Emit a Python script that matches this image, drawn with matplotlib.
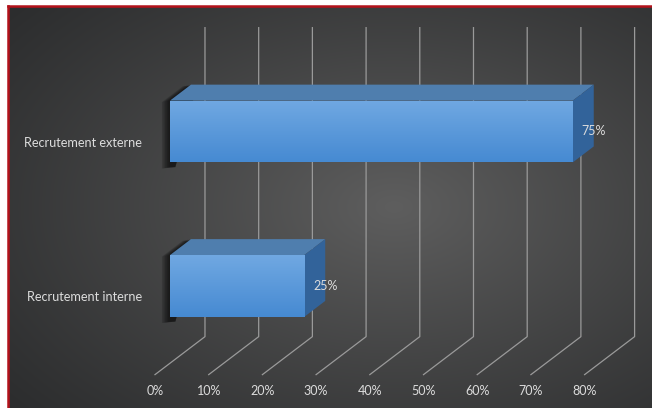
import numpy as np
import matplotlib.pyplot as plt
from matplotlib.patches import Polygon, Rectangle

categories = ['Recrutement interne', 'Recrutement externe']
values = [25, 75]
ticks = [0, 10, 20, 30, 40, 50, 60, 70, 80]
tick_labels = ['0%', '10%', '20%', '30%', '40%', '50%', '60%', '70%', '80%']

# fake 3d: screen = world + depth * (DX, DY)
DX, DY = 9.31, 0.246
def proj(x, y, d):
    return (x + d * DX, y + d * DY)

W, H = 652, 408
fig = plt.figure(figsize=(W / 100, H / 100), dpi=100)
fig.patch.set_facecolor('white')

# dark gradient background inside the red frame
bg = fig.add_axes([8 / W, 0, 1 - 8 / W, 1 - 6 / H])
bg.set_axis_off()
yy, xx = np.mgrid[0:1:200j, 0:1:320j]
r = np.sqrt(((xx - 0.6) / 0.8) ** 2 + ((yy - 0.5) / 0.8) ** 2)
shade = np.clip(1 - r, 0, 1) ** 1.1
c_out = np.array([0x2b, 0x2c, 0x2d]) / 255
c_in = np.array([0x5e, 0x5e, 0x5e]) / 255
img = c_out + shade[..., None] * (c_in - c_out)
bg.imshow(img, aspect='auto', extent=[0, 1, 0, 1], interpolation='bilinear')
bg.set_xlim(0, 1)
bg.set_ylim(0, 1)

# red frame (top and left)
fig.add_artist(plt.Line2D([8 / W, 1], [1 - 6 / H, 1 - 6 / H], color='#b3121b', lw=1.8))
fig.add_artist(plt.Line2D([8 / W, 8 / W], [0, 1 - 6 / H], color='#b3121b', lw=1.8))

ax = fig.add_axes([0, 0, 1, 1])
ax.set_axis_off()
ax.patch.set_alpha(0)

txt = '#dcdcdc'
font = 'Lato'

# gridlines: floor diagonals + back wall verticals
for v, lab in zip(ticks, tick_labels):
    p0 = proj(v, -0.5, 0)
    p1 = proj(v, -0.5, 1)
    p2 = proj(v, 1.5, 1)
    ax.plot([p0[0], p1[0], p2[0]], [p0[1], p1[1], p2[1]], color='#9a9a9a', lw=0.9, zorder=1)
    ax.annotate(lab, xy=p0, xytext=(0, -12), textcoords='offset points',
                ha='center', va='center', color=txt, fontsize=9, family=font)

grad = np.linspace(0, 1, 100)[:, None]
top_c = np.array([0x70, 0xa8, 0xe2]) / 255
bot_c = np.array([0x46, 0x8a, 0xd2]) / 255
front_img = top_c + grad[..., None] * (bot_c - top_c)

d0, d1 = 0.3, 0.72
half = 0.2
for i, (cat, v) in enumerate(zip(categories, values)):
    y0, y1 = i - half, i + half
    # soft shadow along the left edge
    edge = [proj(0, y1, d1), proj(0, y1, d0), proj(0, y0 - 0.03, d0)]
    for k in range(1, 6):
        sh = [(x - k * 0.3, y - k * 0.002) for x, y in edge]
        sh = sh + [(edge[2][0] + 1, edge[2][1]), (edge[0][0] + 1, edge[0][1] - 0.02)]
        ax.add_patch(Polygon(sh, closed=True, facecolor='black', edgecolor='none',
                             alpha=0.16, zorder=2))
    # top face
    top = [proj(0, y1, d0), proj(v, y1, d0), proj(v, y1, d1), proj(0, y1, d1)]
    ax.add_patch(Polygon(top, closed=True, facecolor='#4f7eae', edgecolor='none', zorder=3))
    # right face
    side = [proj(v, y0, d0), proj(v, y1, d0), proj(v, y1, d1), proj(v, y0, d1)]
    ax.add_patch(Polygon(side, closed=True, facecolor='#32639a', edgecolor='none', zorder=3))
    # front face with vertical gradient
    fx0, fy0 = proj(0, y0, d0)
    fx1, fy1 = proj(v, y1, d0)
    rect = Rectangle((fx0, fy0), fx1 - fx0, fy1 - fy0, facecolor='none', edgecolor='none')
    ax.add_patch(rect)
    im = ax.imshow(front_img, extent=[fx0, fx1, fy0, fy1], aspect='auto',
                   interpolation='bilinear', zorder=4)
    im.set_clip_path(rect)
    # labels
    ax.annotate(f'{v}%', xy=proj(v, i, d0), xytext=(6.3, 0), textcoords='offset points',
                ha='left', va='center', color=txt, fontsize=9, family=font, zorder=5)
    ax.annotate(cat, xy=proj(0, i, 0), xytext=(-9.4, 0), textcoords='offset points',
                ha='right', va='center', color=txt, fontsize=9.2, family=font)

ax.set_xlim(-28.86, 92.55)
ax.set_ylim(-0.716, 1.925)

fig.savefig('out.png', dpi=100)
